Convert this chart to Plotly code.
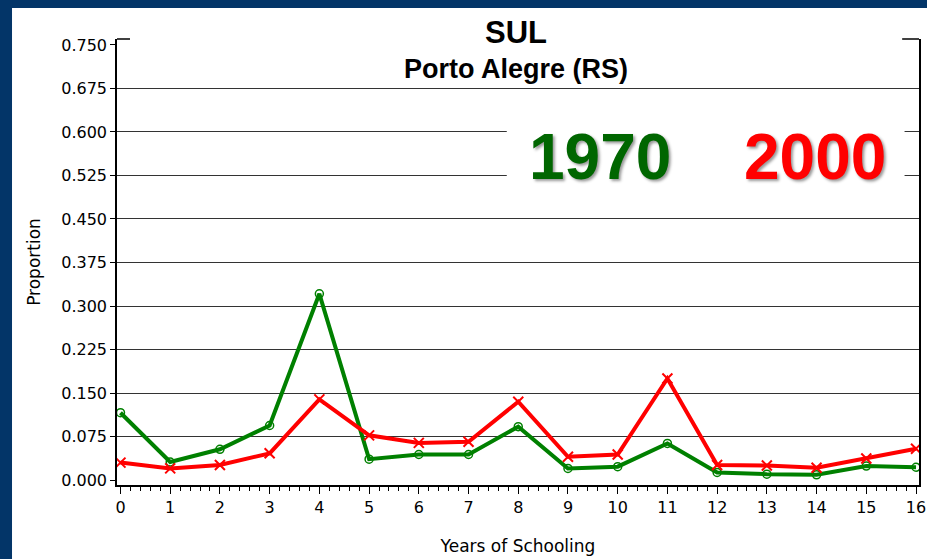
import plotly.graph_objects as go

years = list(range(17))
prop_1970 = [0.116, 0.031, 0.053, 0.094, 0.321, 0.036, 0.044, 0.044, 0.092, 0.020, 0.023, 0.063, 0.013, 0.010, 0.009, 0.024, 0.022]
prop_2000 = [0.030, 0.020, 0.026, 0.046, 0.139, 0.077, 0.064, 0.066, 0.135, 0.040, 0.044, 0.175, 0.026, 0.025, 0.021, 0.037, 0.054]
y_ticks = [0.0, 0.075, 0.15, 0.225, 0.3, 0.375, 0.45, 0.525, 0.6, 0.675, 0.75]
y_tick_labels = ["0.000", "0.075", "0.150", "0.225", "0.300", "0.375", "0.450", "0.525", "0.600", "0.675", "0.750"]
grid_vals = [0.075, 0.15, 0.225, 0.3, 0.375, 0.45, 0.525, 0.6, 0.675]

GREEN = "#008000"
RED = "#FF0000"
NAVY = "#033568"
TICKFONT = dict(family="DejaVu Sans", size=16, color="black")

fig = go.Figure()
fig.add_trace(go.Scatter(
    x=years, y=prop_1970, mode="lines+markers", name="1970",
    line=dict(color=GREEN, width=4),
    marker=dict(symbol="circle-open", size=8, color=GREEN, line=dict(width=1.5, color=GREEN)),
))
fig.add_trace(go.Scatter(
    x=years, y=prop_2000, mode="lines+markers", name="2000",
    line=dict(color=RED, width=4),
    marker=dict(symbol="x-thin", size=10, color=RED, line=dict(width=2, color=RED)),
))
# invisible trace carrying the overlay axis for the gridlines
fig.add_trace(go.Scatter(x=[0], y=[0], yaxis="y2", mode="markers",
                         marker=dict(opacity=0), hoverinfo="skip", showlegend=False))

fig.update_layout(
    width=927, height=559,
    margin=dict(l=117, r=8, t=39, b=74),
    paper_bgcolor="white", plot_bgcolor="white",
    showlegend=False,
    xaxis=dict(
        range=[-0.07, 16.06], tickvals=years, ticktext=[str(v) for v in years],
        automargin=False,
        showgrid=False, zeroline=False,
        showline=True, linecolor="black", linewidth=1.5,
        ticks="outside", ticklen=7, tickwidth=1.2, tickcolor="black",
        minor=dict(dtick=0.2, tick0=0, ticks="outside", ticklen=4, tickcolor="black", tickwidth=1, showgrid=False),
        tickfont=TICKFONT,
        title=dict(text="Years of Schooling", font=dict(family="DejaVu Sans", size=17, color="black"), standoff=24),
    ),
    yaxis=dict(
        range=[-0.0086, 0.7603], tickvals=y_ticks, ticktext=y_tick_labels,
        automargin=False,
        showgrid=False, zeroline=False,
        showline=True, linecolor="black", linewidth=1.5, mirror=True,
        ticks="outside", ticklen=5, tickwidth=1.2, tickcolor="black",
        tickfont=TICKFONT,
        title=dict(text="Proportion", font=dict(family="DejaVu Sans", size=17, color="black"), standoff=16),
    ),
    yaxis2=dict(
        range=[-0.0086, 0.7603], overlaying="y", side="left",
        automargin=False,
        tickvals=grid_vals, showticklabels=False, ticks="",
        showgrid=True, gridcolor="#333333", gridwidth=1.2,
        zeroline=False, showline=False,
    ),
)

shapes = [
    # navy border (top and left)
    dict(type="rect", xref="paper", yref="paper", x0=-0.16, x1=1.02, y0=1.0695, y1=1.1, fillcolor=NAVY, line_width=0, layer="above"),
    dict(type="rect", xref="paper", yref="paper", x0=-0.16, x1=-0.1309, y0=-0.2, y1=1.1, fillcolor=NAVY, line_width=0, layer="above"),
    # top frame stubs (rest hidden behind the title)
    dict(type="line", xref="paper", yref="paper", x0=0, x1=0.0162, y0=1, y1=1, line=dict(color="black", width=1.5), layer="above"),
    dict(type="line", xref="paper", yref="paper", x0=0.979, x1=1, y0=1, y1=1, line=dict(color="black", width=1.5), layer="above"),
    # white box behind the year labels
    dict(type="rect", xref="paper", yref="y", x0=0.486, x1=0.982, y0=0.50, y1=0.63, fillcolor="white", line_width=0, layer="above"),
]
fig.update_layout(shapes=shapes)

annotations = [
    dict(text="<b>SUL</b>", xref="paper", yref="paper", x=0.497, y=(485 - 32) / 446, showarrow=False,
         font=dict(family="Liberation Sans", size=31, color="black"), xanchor="center", yanchor="middle"),
    dict(text="<b>Porto Alegre (RS)</b>", xref="paper", yref="paper", x=0.497, y=(485 - 69) / 446, showarrow=False,
         font=dict(family="Liberation Sans", size=27, color="black"), xanchor="center", yanchor="middle"),
    dict(text="<b>1970</b>", xref="paper", yref="paper", x=0.602, y=0.735, showarrow=False,
         font=dict(family="Liberation Sans", size=64, color="#006600", shadow="2px 2px 3px #999999"),
         xanchor="center", yanchor="middle"),
    dict(text="<b>2000</b>", xref="paper", yref="paper", x=0.870, y=0.735, showarrow=False,
         font=dict(family="Liberation Sans", size=64, color=RED, shadow="2px 2px 3px #999999"),
         xanchor="center", yanchor="middle"),
]
fig.update_layout(annotations=annotations)

fig.write_html(
    "out.html",
    config={"displayModeBar": False},
    post_script="document.body.style.margin='0';document.body.style.overflow='hidden';",
)
